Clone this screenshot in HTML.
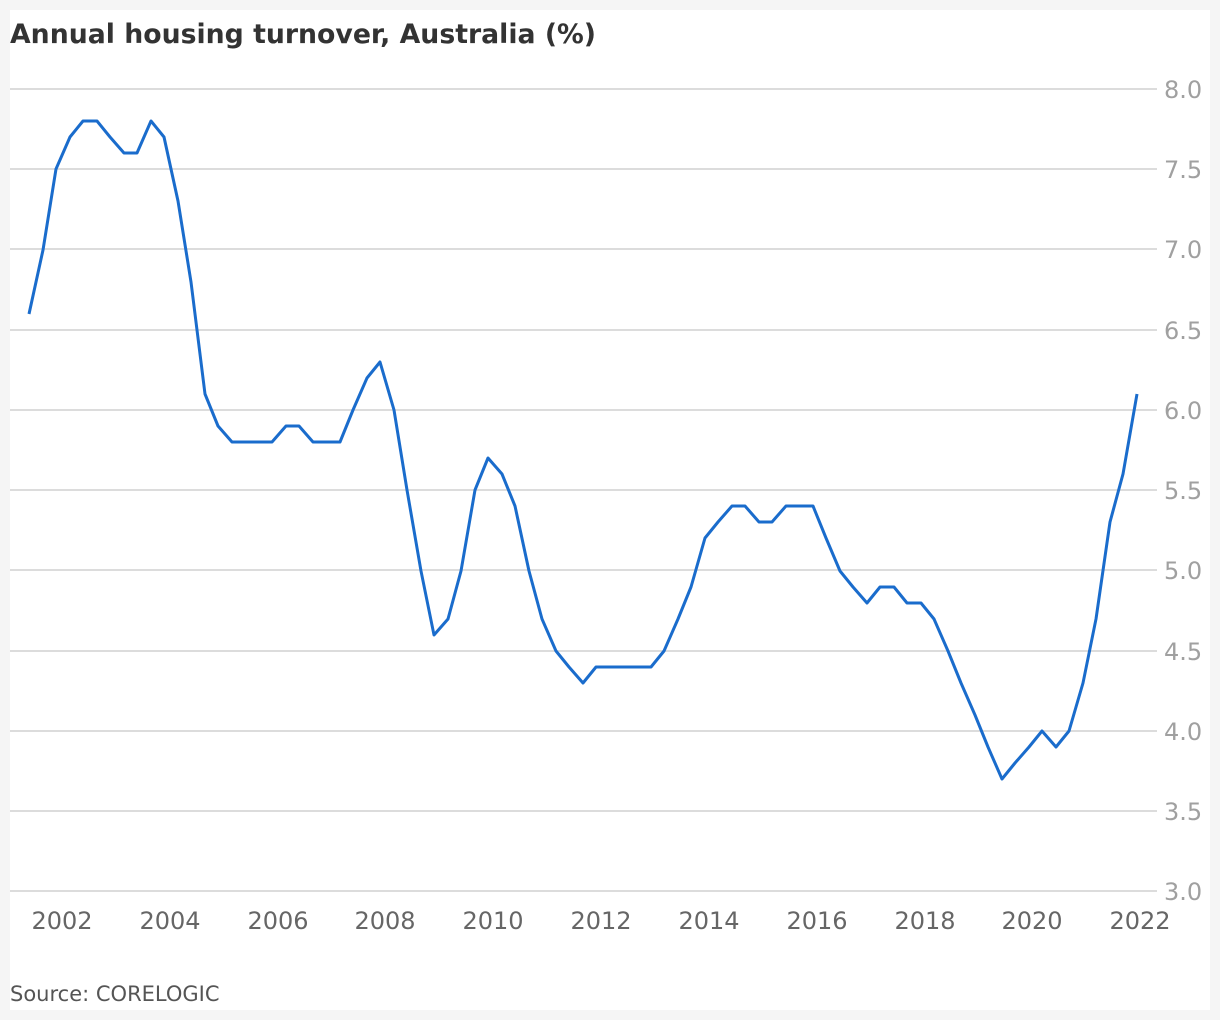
<!DOCTYPE html>
<html><head><style>
html,body{margin:0;padding:0;background:#f5f5f5;}
svg{display:block;}
</style></head><body>
<svg width="1220" height="1020" xmlns="http://www.w3.org/2000/svg" font-family="'DejaVu Sans', 'Liberation Sans', sans-serif">
<rect x="0" y="0" width="1220" height="1020" fill="#f5f5f5"/>
<rect x="10" y="10" width="1200" height="1000" fill="#fff"/>
<text x="10" y="43" font-size="27" font-weight="bold" fill="#333" textLength="586" lengthAdjust="spacingAndGlyphs">Annual housing turnover, Australia (%)</text>
<g stroke="#dcdcdc" stroke-width="2">
<line x1="10" x2="1157" y1="89" y2="89"/><line x1="10" x2="1157" y1="169" y2="169"/>
<line x1="10" x2="1157" y1="249" y2="249"/><line x1="10" x2="1157" y1="330" y2="330"/>
<line x1="10" x2="1157" y1="410" y2="410"/><line x1="10" x2="1157" y1="490" y2="490"/>
<line x1="10" x2="1157" y1="570" y2="570"/><line x1="10" x2="1157" y1="651" y2="651"/>
<line x1="10" x2="1157" y1="731" y2="731"/><line x1="10" x2="1157" y1="811" y2="811"/>
<line x1="10" x2="1157" y1="891" y2="891"/>
</g>
<g font-size="24" fill="#a0a0a0">
<text x="1164" y="98">8.0</text><text x="1164" y="178">7.5</text><text x="1164" y="258">7.0</text>
<text x="1164" y="339">6.5</text><text x="1164" y="419">6.0</text><text x="1164" y="499">5.5</text>
<text x="1164" y="579">5.0</text><text x="1164" y="660">4.5</text><text x="1164" y="740">4.0</text>
<text x="1164" y="820">3.5</text><text x="1164" y="900">3.0</text>
</g>
<g font-size="24" fill="#666" text-anchor="middle">
<text x="62" y="929">2002</text><text x="170" y="929">2004</text><text x="278" y="929">2006</text>
<text x="385" y="929">2008</text><text x="493" y="929">2010</text><text x="601" y="929">2012</text>
<text x="709" y="929">2014</text><text x="817" y="929">2016</text><text x="925" y="929">2018</text>
<text x="1032" y="929">2020</text><text x="1140" y="929">2022</text>
</g>
<polyline fill="none" stroke="#1a6ccc" stroke-width="3" stroke-linejoin="round" points="29,314 43,250 56,169 70,137 83,121 97,121 110,137 124,153 137,153 151,121 164,137 178,201 191,282 205,394 218,426 232,442 245,442 259,442 272,442 286,426 299,426 313,442 326,442 340,442 353,410 367,378 380,362 394,410 407,490 421,571 434,635 448,619 461,571 475,490 488,458 502,474 515,506 529,571 542,619 556,651 569,667 583,683 596,667 610,667 623,667 637,667 651,667 664,651 678,619 691,587 705,538 718,522 732,506 745,506 759,522 772,522 786,506 799,506 813,506 826,538 840,571 853,587 867,603 880,587 894,587 907,603 921,603 934,619 948,651 961,683 975,715 988,747 1002,779 1015,763 1029,747 1042,731 1056,747 1069,731 1083,683 1096,619 1110,522 1123,474 1137,394"/>
<text x="10" y="1001" font-size="21" fill="#555">Source: CORELOGIC</text>
</svg>
</body></html>
